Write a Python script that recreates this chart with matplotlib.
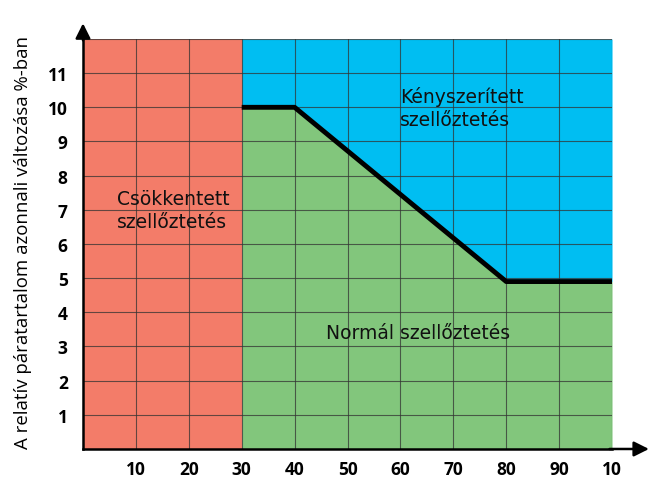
import matplotlib
matplotlib.use('Agg')
import matplotlib.pyplot as plt
import numpy as np

# adatok
hatar_x = [30, 40, 80, 100]          # határvonal töréspontjai
hatar_y = [10, 10, 4.9, 4.9]
csokkentett_x = [0, 30]
x_ticks = [10, 20, 30, 40, 50, 60, 70, 80, 90, 100]
x_ticklabels = ['10', '20', '30', '40', '50', '60', '70', '80', '90', '10']
y_ticks = [1, 2, 3, 4, 5, 6, 7, 8, 9, 10, 11]
x_max, y_max = 100, 12

PIROS = '#F37C69'
KEK = '#00BEF2'
ZOLD = '#82C67C'

plt.rcParams['font.family'] = ['Open Sans', 'DejaVu Sans']

fig = plt.figure(figsize=(6.55, 4.85), dpi=100)
ax = fig.add_axes([0.1267, 0.0722, 0.8077, 0.8454])

# területek
ax.fill_between(csokkentett_x, 0, y_max, color=PIROS, lw=0, zorder=1)
ax.fill_between(hatar_x, hatar_y, y_max, color=KEK, lw=0, zorder=1)
ax.fill_between(hatar_x, 0, hatar_y, color=ZOLD, lw=0, zorder=1)
ax.plot(hatar_x, hatar_y, color='black', lw=3.5, solid_capstyle='butt', zorder=4)

ax.set_xlim(0, x_max)
ax.set_ylim(0, y_max)
ax.set_xticks(x_ticks)
ax.set_xticklabels(x_ticklabels, fontsize=12.5, fontweight='bold')
ax.set_yticks(y_ticks)
ax.set_yticklabels([str(v) for v in y_ticks], fontsize=12.5, fontweight='bold')
ax.tick_params(length=0)
ax.tick_params(axis='x', pad=8)
ax.tick_params(axis='y', pad=11)
ax.grid(True, color='#333333', lw=0.8, alpha=0.75, zorder=2)
ax.set_axisbelow(False)
ax.axhline(y_max, color='#333333', lw=0.8, alpha=0.75, zorder=2)

for s in ['top', 'right']:
    ax.spines[s].set_visible(False)
for s in ['left', 'bottom']:
    ax.spines[s].set_linewidth(1.8)
    ax.spines[s].set_zorder(5)

# tengelynyilak
ax.annotate('', xy=(0, 1.045), xytext=(0, 0.99), xycoords='axes fraction',
            arrowprops=dict(arrowstyle='-|>,head_length=0.9,head_width=0.45',
                            color='black', lw=1.8), annotation_clip=False)
ax.annotate('', xy=(1.075, 0), xytext=(0.99, 0), xycoords='axes fraction',
            arrowprops=dict(arrowstyle='-|>,head_length=0.9,head_width=0.45',
                            color='black', lw=1.8), annotation_clip=False)

ax.set_ylabel('A relatív páratartalom azonnali változása %-ban', fontsize=13.4)
ax.yaxis.set_label_coords(-0.097, 0.505)

szoveg = dict(fontsize=13.5, color='#111111', zorder=6, family=['DejaVu Sans'])
ax.text(6.4, 7.0, 'Csökkentett\nszellőztetés', ha='left', va='center',
        linespacing=1.25, **szoveg)
ax.text(60, 10.0, 'Kényszerített\nszellőztetés', ha='left', va='center',
        linespacing=1.25, **szoveg)
ax.text(63.3, 3.4, 'Normál szellőztetés', ha='center', va='center', **szoveg)

fig.savefig('out.png', dpi=100)
